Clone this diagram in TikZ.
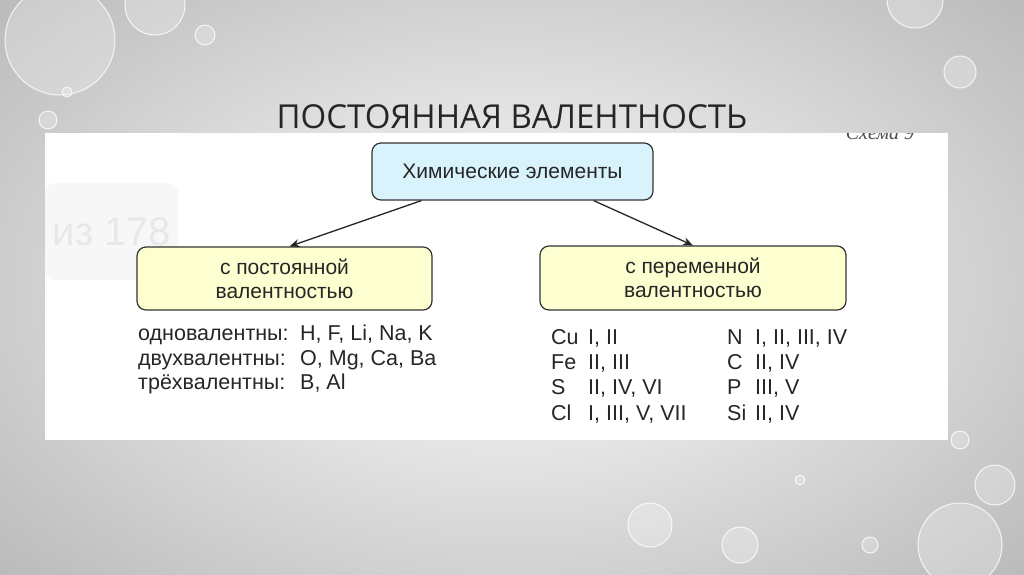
\documentclass[tikz,border=0pt]{standalone}
\usepackage{fontspec}
\usetikzlibrary{arrows.meta}
\setmainfont{Liberation Sans}
\newfontfamily\titlefont{Open Sans}
\newfontfamily\schemafont{Liberation Serif}
\begin{document}
\begin{tikzpicture}[x=1pt,y=-1pt,
  box/.style={draw=black!80,line width=1.2pt,rounded corners=9pt,align=center,font=\fontsize{21}{24}\selectfont,inner sep=0pt,text=black!85},
  arr/.style={-{Stealth[length=10pt,width=8pt]},line width=1.3pt,black!85},
  txt/.style={anchor=base west,inner sep=0pt,font=\fontsize{21.5}{24}\selectfont,text=black!85,yshift=-7.5pt},
  drop/.style={circle,draw=white,fill=white,fill opacity=0.25,draw opacity=0.8,line width=1pt}]
\useasboundingbox (0,0) rectangle (1024,574);
\shade[inner color=white,outer color=gray!55] (-200,-150) rectangle (1224,724);
\foreach \x/\y/\r in {60/40/55,155/5/30,205/35/10,48/120/9,67/92/5,960/72/16,915/0/28,960/440/9,995/485/20,650/525/22,740/545/18,960/545/42,870/545/8,800/480/4}
  \node[drop,minimum size=2*\r] (d\x\y) at (\x,\y) {};
\node[font=\titlefont\fontsize{33}{36}\selectfont,text=black!85] (title) at (512,117) {ПОСТОЯННАЯ ВАЛЕНТНОСТЬ};
\fill[white] (45,133) rectangle (948,440);
\fill[gray!6,rounded corners=10pt] (45,183) rectangle (178,280);
\node[text=gray!18,font=\fontsize{40}{42}\selectfont] (ghost) at (112,232) {из 178};
\begin{scope}
\clip (45,133) rectangle (948,440);
\node[text=black!70,font=\schemafont\itshape\fontsize{20}{20}\selectfont] (schema) at (880,133) {Схема 9};
\end{scope}
\node[box,fill=cyan!15,minimum width=281,minimum height=57] (top) at (512.5,171.5) {Химические элементы};
\node[box,fill=lime!20!yellow!18,minimum width=295,minimum height=63] (L) at (284.5,278.5) {с постоянной\\валентностью};
\node[box,fill=lime!20!yellow!18,minimum width=306,minimum height=64] (R) at (693,278) {с переменной\\валентностью};
\draw[arr] ([xshift=50]top.south west) -- ([xshift=5]L.north);
\draw[arr] ([xshift=-60]top.south east) -- (R.north);
\node[txt] (a1) at (138,333) {одновалентны:};
\node[txt] (a2) at (138,358) {двухвалентны:};
\node[txt] (a3) at (138,382) {трёхвалентны:};
\node[txt] (b1) at (300,333) {H, F, Li, Na, K};
\node[txt] (b2) at (300,358) {O, Mg, Ca, Ba};
\node[txt] (b3) at (300,382) {B, Al};
\foreach \n/\e/\v/\y in {1/Cu/{I, II}/337,2/Fe/{II, III}/362,3/S/{II, IV, VI}/387,4/Cl/{I, III, V, VII}/413}{
  \node[txt] (ce\n) at (551,\y) {\e};
  \node[txt] (cv\n) at (588,\y) {\v};}
\foreach \n/\e/\v/\y in {1/N/{I, II, III, IV}/337,2/C/{II, IV}/362,3/P/{III, V}/387,4/Si/{II, IV}/413}{
  \node[txt] (de\n) at (727,\y) {\e};
  \node[txt] (dv\n) at (755,\y) {\v};}
\end{tikzpicture}
\end{document}
